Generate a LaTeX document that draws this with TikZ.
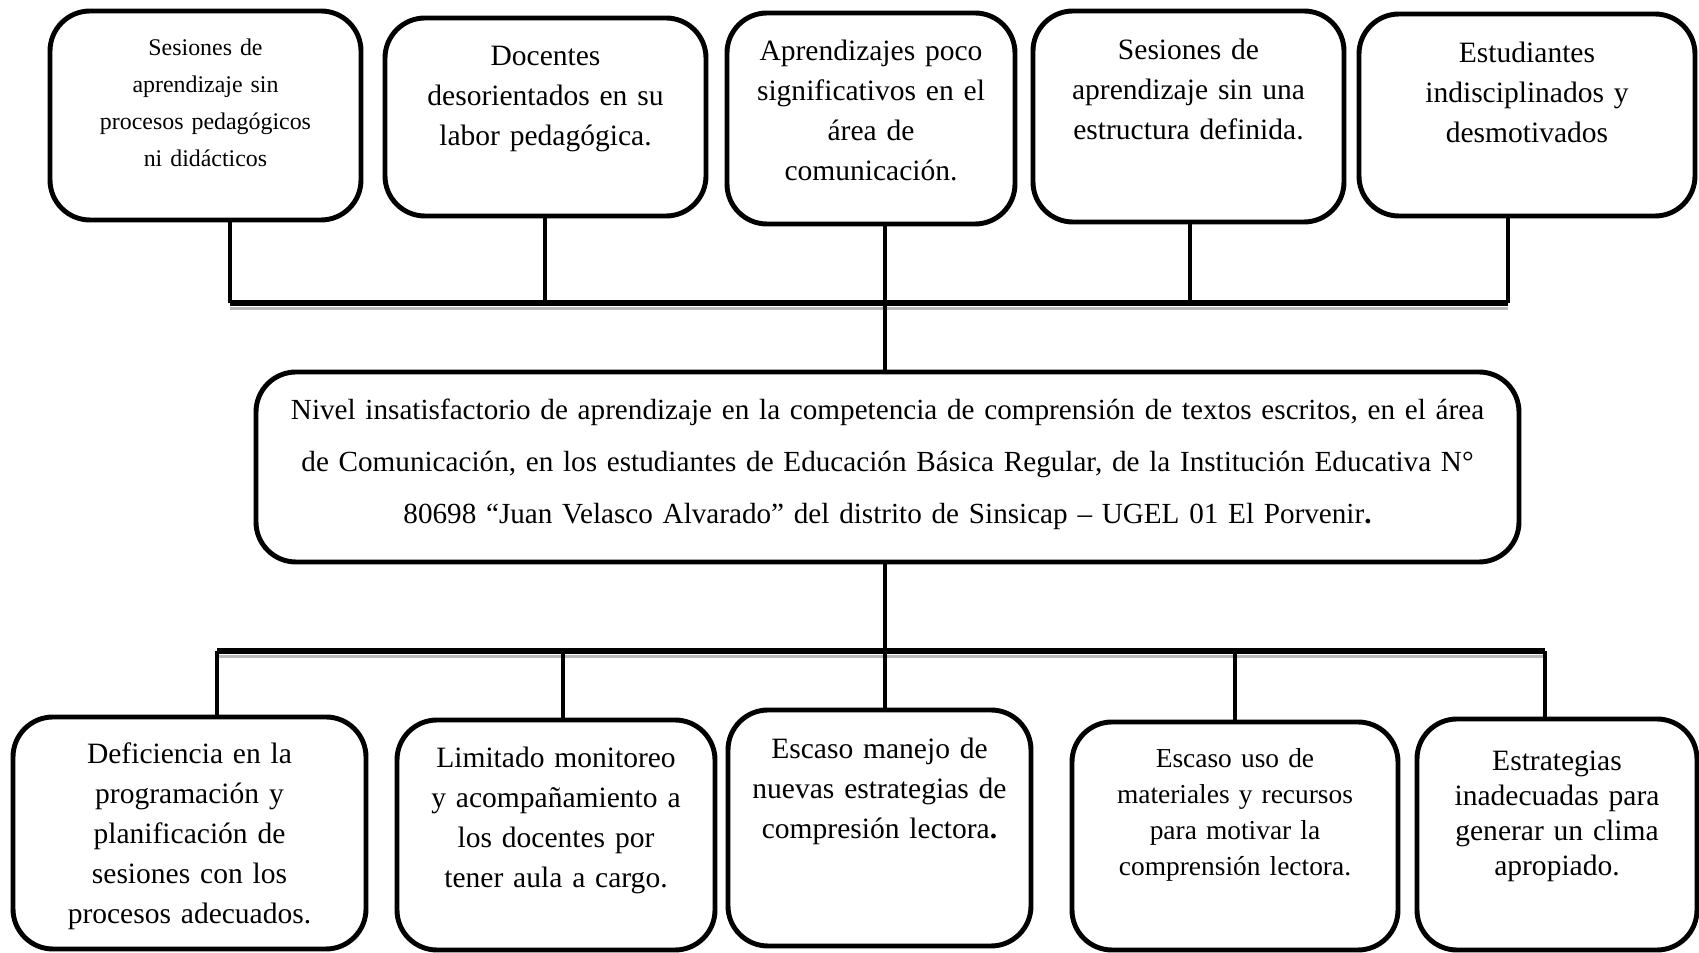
\documentclass[tikz,border=0pt]{standalone}
\usepackage{fontspec}
\setmainfont{Liberation Serif}
\tikzset{box/.style={draw, line width=1.4pt, rounded corners=0.4cm, inner sep=0pt},
         lbl/.style={anchor=base, align=center, inner sep=0pt, text width=3.1cm, font=\fontsize{8.4}{11.4}\selectfont},
         link/.style={line width=1.15pt},
         bar/.style={line width=1.6pt},
         barshade/.style={gray!55, line width=1pt}}

\begin{document}
\begin{tikzpicture}
   \useasboundingbox (0,0) rectangle (16.99,-9.53);
   % efectos
   \node[box, minimum width=3.11cm, minimum height=2.09cm] (e1) at ( 2.055,-1.155) {};
   \node[box, minimum width=3.21cm, minimum height=1.98cm] (e2) at ( 5.455,-1.17) {};
   \node[box, minimum width=2.88cm, minimum height=2.11cm] (e3) at ( 8.71,-1.185) {};
   \node[box, minimum width=3.11cm, minimum height=2.11cm] (e4) at (11.885,-1.165) {};
   \node[box, minimum width=3.36cm, minimum height=2.02cm] (e5) at (15.27,-1.15) {};
   \node[lbl, font=\fontsize{6.8}{10.5}\selectfont] (te1) at ([yshift=-4.7mm]e1.north) {Sesiones de\\aprendizaje sin\\procesos pedagógicos\\ni didácticos};
   \node[lbl] (te2) at ([yshift=-4.95mm]e2.north) {Docentes\\desorientados en su\\labor pedagógica.};
   \node[lbl] (te3) at ([yshift=-4.95mm]e3.north) {Aprendizajes poco\\significativos en el\\área de\\comunicación.};
   \node[lbl] (te4) at ([yshift=-5.05mm]e4.north) {Sesiones de\\aprendizaje sin una\\estructura definida.};
   \node[lbl] (te5) at ([yshift=-5.05mm]e5.north) {Estudiantes\\indisciplinados y\\desmotivados};
   % problema
   \node[box, minimum width=12.63cm, minimum height=1.90cm] (prob) at (8.875,-4.67) {};
   \node[lbl, text width=12.5cm, font=\fontsize{8.3}{14.8}\selectfont] (tprob) at ([yshift=-5.0mm]prob.north)
     {Nivel insatisfactorio de aprendizaje en la competencia de comprensión de textos escritos, en el área\\
      de Comunicación, en los estudiantes de Educación Básica Regular, de la Institución Educativa N°\\
      80698 “Juan Velasco Alvarado” del distrito de Sinsicap – UGEL 01 El Porvenir\textbf{.}};
   % causas
   \node[box, minimum width=3.53cm, minimum height=2.32cm] (c1) at ( 1.895,-8.33) {};
   \node[box, minimum width=3.18cm, minimum height=2.30cm] (c2) at ( 5.56,-8.35) {};
   \node[box, minimum width=3.03cm, minimum height=2.36cm] (c3) at ( 8.795,-8.28) {};
   \node[box, minimum width=3.26cm, minimum height=2.28cm] (c4) at (12.35,-8.36) {};
   \node[box, minimum width=2.80cm, minimum height=2.31cm] (c5) at (15.57,-8.345) {};
   \node[lbl, text width=3.4cm] (tc1) at ([yshift=-4.9mm]c1.north) {Deficiencia en la\\programación y\\planificación de\\sesiones con los\\procesos adecuados.};
   \node[lbl] (tc2) at ([yshift=-5.0mm]c2.north) {Limitado monitoreo\\y acompañamiento a\\los docentes por\\tener aula a cargo.};
   \node[lbl] (tc3) at ([yshift=-5.1mm]c3.north) {Escaso manejo de\\nuevas estrategias de\\compresión lectora\textbf{.}};
   \node[lbl, font=\fontsize{7.8}{10.3}\selectfont] (tc4) at ([yshift=-4.75mm]c4.north) {Escaso uso de\\materiales y recursos\\para motivar la\\comprensión lectora.};
   \node[lbl, text width=2.7cm, font=\fontsize{8.4}{10}\selectfont] (tc5) at ([yshift=-5.35mm]c5.north) {Estrategias\\inadecuadas para\\generar un clima\\apropiado.};
   % uniones
   \coordinate (j1) at ( 2.30,-3.03);
   \coordinate (j2) at ( 5.45,-3.03);
   \coordinate (j3) at ( 8.85,-3.03);
   \coordinate (j4) at (11.90,-3.03);
   \coordinate (j5) at (15.08,-3.03);
   \coordinate (k1) at ( 2.17,-6.51);
   \coordinate (k2) at ( 5.63,-6.51);
   \coordinate (k3) at ( 8.85,-6.51);
   \coordinate (k4) at (12.35,-6.51);
   \coordinate (k5) at (15.45,-6.51);
   \draw[barshade] ([yshift=-0.55mm]j1) -- ([yshift=-0.55mm]j5);
   \draw[barshade] ([yshift=-0.55mm]k1) -- ([yshift=-0.55mm]k5);
   \draw[bar] (j1) -- (j5);
   \draw[bar] (k1) -- (k5);
   \foreach \i in {1,...,5} {
     \draw[link] (j\i) -- (j\i |- e\i.south);
     \draw[link] (k\i) -- (k\i |- c\i.north);
   }
   \draw[link] (j3 |- e3.south) -- (j3 |- prob.north);
   \draw[link] (k3 |- prob.south) -- (k3);
\end{tikzpicture}
\end{document}
